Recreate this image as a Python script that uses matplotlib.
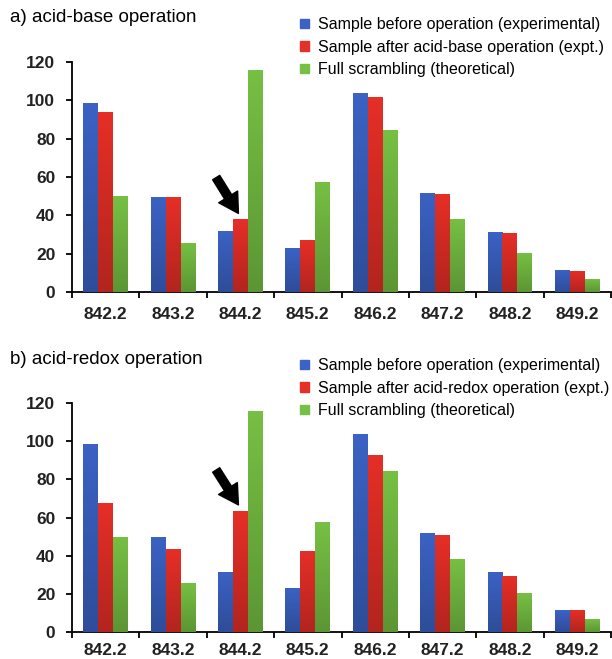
import numpy as np
import matplotlib.pyplot as plt
from matplotlib.patches import Patch
from matplotlib.colors import to_rgb

plt.rcParams['font.family'] = ['Liberation Sans', 'DejaVu Sans']

# Isotope peak intensities (m/z)
masses = ['842.2', '843.2', '844.2', '845.2', '846.2', '847.2', '848.2', '849.2']
before = [98.6, 49.8, 31.7, 23.2, 103.7, 51.7, 31.2, 11.5]
after_base = [94, 49.6, 38, 27, 101.5, 51, 31, 11.1]
after_redox = [67.4, 43.3, 63.4, 42.7, 93, 50.6, 29.6, 11.3]
scrambling = [50, 25.7, 116, 57.5, 84.6, 38.3, 20.4, 7]

titles = ['a) acid-base operation', 'b) acid-redox operation']
labels_a = ['Sample before operation (experimental)',
            'Sample after acid-base operation (expt.)',
            'Full scrambling (theoretical)']
labels_b = ['Sample before operation (experimental)',
            'Sample after acid-redox operation (expt.)',
            'Full scrambling (theoretical)']

colors = ['#3b62c4', '#e52f27', '#76c043']


def gradient_bars(ax, x, heights, width, color):
    # bars with a slight top-to-bottom darkening, like the office style
    top = np.array(to_rgb(color))
    bottom = top * 0.78
    grad = np.linspace(0, 1, 64)[:, None, None]
    img = bottom * (1 - grad) + top * grad
    bars = ax.bar(x, heights, width, color=color, zorder=2)
    for b in bars:
        bx, by = b.get_x(), b.get_y()
        im = ax.imshow(img, extent=[bx, bx + b.get_width(), by, by + b.get_height()],
                       origin='lower', aspect='auto', zorder=3)
        im.set_clip_path(b)
    return bars


fig = plt.figure(figsize=(6.12, 6.59), dpi=100)
ax1 = fig.add_axes([72/612, 1 - 292/659, 539/612, 230/659])
ax2 = fig.add_axes([72/612, 1 - 632/659, 539/612, 229/659])

x = np.arange(len(masses))
w = 0.222
panels = [(ax1, after_base, labels_a, 41, 59.7, 17, 11),
          (ax2, after_redox, labels_b, 66.6, 84.9, 358, 8)]

for ax, after, labels, tip_y, tail_y, leg_top, xpad in panels:
    gradient_bars(ax, x - w, before, w, colors[0])
    gradient_bars(ax, x, after, w, colors[1])
    gradient_bars(ax, x + w, scrambling, w, colors[2])

    ax.set_xlim(-0.5, 7.5)
    ax.set_ylim(0, 120)
    ax.set_yticks(np.arange(0, 121, 20))
    ax.set_xticks(np.arange(-0.5, 8, 1))
    ax.set_xticklabels([])
    ax.set_xticks(x, minor=True)
    ax.set_xticklabels(masses, minor=True)
    ax.tick_params(axis='x', which='minor', length=0, pad=xpad, labelsize=12.5)
    ax.tick_params(axis='x', which='major', direction='out', length=4, width=1.3)
    ax.tick_params(axis='y', direction='out', length=4, width=1.3, pad=8, labelsize=12.5)
    for t in ax.get_xticklabels(minor=True) + ax.get_yticklabels():
        t.set_fontweight('bold')
        t.set_color('#222222')
    for s in ['top', 'right']:
        ax.spines[s].set_visible(False)
    ax.spines['left'].set_linewidth(1.3)
    ax.spines['bottom'].set_linewidth(1.3)

    ax.annotate('', xy=(1.97, tip_y), xytext=(1.64, tail_y),
                arrowprops=dict(arrowstyle='simple,head_length=0.7,head_width=0.8,tail_width=0.3',
                                color='black', mutation_scale=20, shrinkA=0, shrinkB=0),
                zorder=5)

    handles = [Patch(color=c) for c in colors]
    ax.legend(handles, labels, loc='upper left', frameon=False, fontsize=11.5,
              bbox_to_anchor=(300/612, 1 - leg_top/659),
              bbox_transform=fig.transFigure, handlelength=0.55, handleheight=0.55,
              handletextpad=0.6, labelspacing=0.48, borderaxespad=0, borderpad=0)

fig.text(10/612, 1 - 18/659, titles[0], fontsize=13.5, va='center', ha='left')
fig.text(10/612, 1 - 360/659, titles[1], fontsize=13.5, va='center', ha='left')

fig.savefig('out.png', dpi=100)
